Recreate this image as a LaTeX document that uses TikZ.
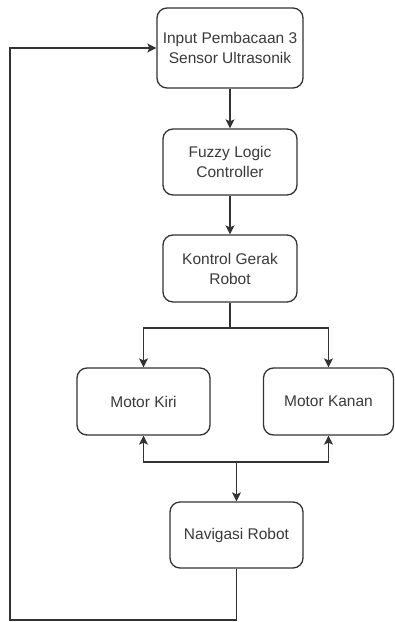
\documentclass[tikz,border=0pt]{standalone}
\usepackage{fontspec}
\setmainfont{Liberation Sans}
\usetikzlibrary{arrows.meta}
\definecolor{ln}{HTML}{333333}
\definecolor{tx}{HTML}{3A3A3A}
\tikzset{
  box/.style={draw=ln, line width=1.3pt, rounded corners=10pt, fill=white,
    text=tx, align=center, font=\fontsize{15.5}{20}\selectfont, inner sep=0pt},
  conn/.style={draw=ln, line width=1.3pt},
  arr/.style={conn, -{Stealth[length=9pt,width=9pt,inset=2pt]}}
}
\begin{document}
\begin{tikzpicture}[x=1pt,y=-1pt]
\useasboundingbox (0,0) rectangle (395,622);
\node[box, minimum width=146pt, minimum height=80pt] (b1) at (230,48) {Input Pembacaan 3\\Sensor Ultrasonik};
\node[box, minimum width=134pt, minimum height=66pt] (b2) at (230,162) {Fuzzy Logic\\Controller};
\node[box, minimum width=134pt, minimum height=67pt] (b3) at (230,268.5) {Kontrol Gerak\\Robot};
\node[box, minimum width=133pt, minimum height=67pt] (kiri) at (143.5,401.5) {Motor Kiri};
\node[box, minimum width=130pt, minimum height=67pt] (kanan) at (328.5,401.5) {Motor Kanan};
\node[box, minimum width=133pt, minimum height=66pt] (navi) at (236.5,535) {Navigasi Robot};
\coordinate (split) at (230,328);
\coordinate (m) at (236.5,462);
\coordinate (c1) at (236.5,620);
\coordinate (c2) at (10,620);
\coordinate (c3) at (10,48);
\draw[arr] (b1) -- (b2);
\draw[arr] (b2) -- (b3);
\draw[conn] (b3) -- (split);
\draw[arr] (split) -| (kiri);
\draw[arr] (split) -| (kanan);
\draw[arr] (m) -| (kiri);
\draw[arr] (m) -| (kanan);
\draw[arr] (m) -- (navi);
\draw[arr] (navi) -- (c1) -- (c2) -- (c3) -- (b1);
\end{tikzpicture}
\end{document}
